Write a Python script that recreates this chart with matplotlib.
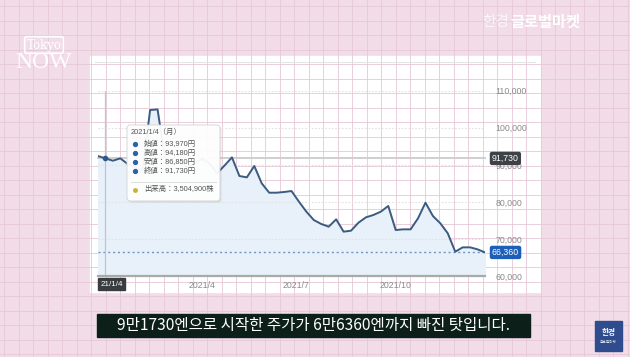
import numpy as np
import matplotlib
matplotlib.use("Agg")
import matplotlib.pyplot as plt
from matplotlib.patches import FancyBboxPatch, Rectangle
import matplotlib.transforms as mtransforms

plt.rcParams['font.family'] = ['Liberation Sans', 'Noto Sans CJK JP']

# weekly closing prices (yen), from the week of 2020/12/28 to late 2021/12
close = [92370, 91730, 91110, 91740, 90210, 89300, 88500, 104780, 104960, 91800,
         90200, 91000, 89200, 90500, 91600, 90400, 87700, 89800, 92010, 86980,
         86620, 89680, 85000, 82480, 82480, 82660, 82930, 80050, 77350, 75100,
         74030, 73310, 75290, 71960, 72230, 74390, 75830, 76460, 77360, 78890,
         72410, 72590, 72590, 75560, 79780, 76190, 74210, 71510, 66560, 67730,
         67730, 67190, 66360]
tick_pos = [14, 26.6, 40]
tick_labels = ['2021/4', '2021/7', '2021/10']
y_ticks = [60000, 70000, 80000, 90000, 100000, 110000]
hover_idx = 1
hover_date = '2021/1/4（月）'
hover_rows = [('始値', '93,970円'), ('高値', '94,180円'), ('安値', '86,850円'), ('終値', '91,730円')]
hover_volume = ('出来高', '3,504,900株')
last_price = 66360
hover_price = 91730
subtitle = '9만1730엔으로 시작한 주가가 6만6360엔까지 빠진 탓입니다.'

W, H = 630, 357
fig = plt.figure(figsize=(W / 100, H / 100), dpi=100)

# background: pink graph paper + white panel
bg = fig.add_axes([0, 0, 1, 1], zorder=0)
bg.set_xlim(0, W)
bg.set_ylim(H, 0)
bg.axis('off')
bg.add_patch(Rectangle((0, 0), W, H, color='#f1dce7'))
for gx in np.arange(4, W, 14.5):
    bg.plot([gx, gx], [0, H], color='#e6c8d7', lw=0.6)
for gy in np.arange(6, H, 14.5):
    bg.plot([0, W], [gy, gy], color='#e6c8d7', lw=0.6)
bg.add_patch(Rectangle((90, 56), 450, 236, color='white'))
bg.plot([95, 535], [62, 62], color='#e3e6e8', lw=0.8)

# logos / captions
bg.text(44, 45, 'Tokyo', color='white', fontsize=8.5, ha='center', va='center',
        family='DejaVu Serif',
        bbox=dict(boxstyle='round,pad=0.15', fc='none', ec='white', lw=1.2))
bg.text(44, 62, 'NOW', color='white', fontsize=17, ha='center', va='center',
        family='Liberation Serif', alpha=0.95)
bg.text(482, 22, '한경', color='white', alpha=0.75, fontsize=10.5, ha='left', va='center',
        family=['Noto Sans CJK KR'])
bg.text(510, 22, '글로벌마켓', color='white', fontsize=11, ha='left', va='center',
        family=['Noto Sans CJK KR'], fontweight='bold')

# chart
x0, x1 = 98, 485
y_top, y_bot = 90.7, 276
ax = fig.add_axes([x0 / W, 1 - y_bot / H, (x1 - x0) / W, (y_bot - y_top) / H], zorder=1)
ax.set_facecolor('none')
x = np.arange(len(close))
ax.set_xlim(0, len(close) - 1)
ax.set_ylim(60000, 110000)
ax.fill_between(x, close, 60000, color='#e8f1f9', zorder=1)
ax.plot(x, close, color='#3b5b80', lw=1.4, zorder=3)
ax.axhline(last_price, color='#6f95c4', lw=1, ls=(0, (1.5, 2)), zorder=2)
ax.axhline(hover_price, color='#cfcfcf', lw=1.4, zorder=2, clip_on=False)
ax.axvline(hover_idx, color='#b9c6d3', lw=0.9, zorder=2)
ax.plot(hover_idx, close[hover_idx], 'o', color='#2d5a8c', ms=3, zorder=4)

ax.set_yticks(y_ticks)
ax.set_yticklabels([f'{v:,}' for v in y_ticks])
ax.yaxis.tick_right()
ax.set_xticks(tick_pos)
ax.set_xticklabels(tick_labels)
ax.tick_params(axis='y', length=0, pad=7.5, labelsize=6.3, labelcolor='#8a8a8a')
ax.tick_params(axis='x', length=0, pad=3.5, labelsize=6.3, labelcolor='#8a8a8a')
ax.grid(axis='y', color='#e2e2e2', lw=0.8, ls=(0, (1.5, 1.5)))
for s in ['top', 'left', 'right']:
    ax.spines[s].set_visible(False)
ax.spines['bottom'].set_color('#a9a9a9')
ax.spines['bottom'].set_linewidth(1.6)

trans = mtransforms.blended_transform_factory(ax.transAxes, ax.transData)
ax.text(1.018, hover_price, f'{hover_price:,}', transform=trans, ha='left', va='center',
        fontsize=6.3, color='white', zorder=6,
        bbox=dict(boxstyle='round,pad=0.25', fc='#3d4246', ec='none'))
ax.text(1.018, last_price, f'{last_price:,}', transform=trans, ha='left', va='center',
        fontsize=6.3, color='white', zorder=6,
        bbox=dict(boxstyle='round,pad=0.25', fc='#1d5fb8', ec='none'))

# overlay: tooltip, date tag, subtitle
ov = fig.add_axes([0, 0, 1, 1], zorder=2)
ov.set_xlim(0, W)
ov.set_ylim(H, 0)
ov.axis('off')

ov.add_patch(FancyBboxPatch((128.5, 126.5), 93, 76, boxstyle='round,pad=0,rounding_size=3',
                            fc='#000000', ec='none', alpha=0.08))
ov.add_patch(FancyBboxPatch((127, 125), 93, 76, boxstyle='round,pad=0,rounding_size=3',
                            fc='white', ec='#d5d5d5', lw=0.7, alpha=0.95))
ov.text(131, 132.5, hover_date, fontsize=5.3, color='#555555', va='center', ha='left')
for i, (k, v) in enumerate(hover_rows):
    yy = 144 + i * 9
    ov.plot(135, yy, 'o', color='#2d62a8', ms=2.8)
    ov.text(144, yy, f'{k}：{v}', fontsize=5.3, color='#555555', va='center', ha='left')
ov.plot([131, 216], [181.5, 181.5], color='#dddddd', lw=0.7)
ov.plot(135, 190, 'o', color='#c9b23a', ms=2.5)
ov.text(144, 190, f'{hover_volume[0]}：{hover_volume[1]}', fontsize=5.3, color='#555555',
        va='center', ha='left')

ov.add_patch(Rectangle((98, 278), 27, 12, color='#3a3d40'))
ov.text(111.5, 284, '21/1/4', fontsize=5.8, color='white', ha='center', va='center')

ov.add_patch(Rectangle((97, 314), 433, 23, color='#0c1f18'))
ov.text(313.5, 325.5, subtitle, fontsize=11.2, color='white', ha='center', va='center',
        family=['Noto Sans CJK KR'])

ov.add_patch(Rectangle((595, 321), 27, 30, color='#2f4d8e'))
ov.text(608.5, 333, '한경', fontsize=5.5, color='white', ha='center', va='center',
        family=['Noto Sans CJK KR'], fontweight='bold')
ov.text(608.5, 342, '글로벌마켓', fontsize=2.6, color='#dfe6f3', ha='center', va='center',
        family=['Noto Sans CJK KR'])

fig.savefig('out.png', dpi=100)
